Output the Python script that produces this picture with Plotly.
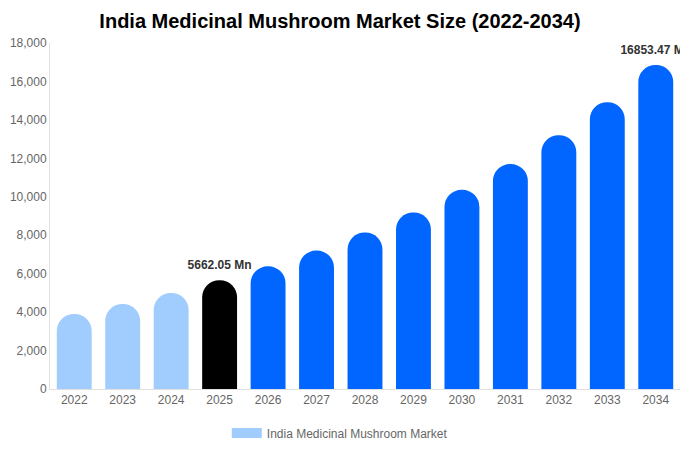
import plotly.graph_objects as go

years = ["2022", "2023", "2024", "2025", "2026", "2027", "2028",
         "2029", "2030", "2031", "2032", "2033", "2034"]
values = [3900, 4420, 4995, 5662.05, 6380, 7200, 8140,
          9180, 10360, 11700, 13200, 14920, 16853.47]
bar_colors = ["#a0cdfd", "#a0cdfd", "#a0cdfd", "#000000"] + ["#0066ff"] * 9
series_name = "India Medicinal Mushroom Market"
legend_color = "#a0cdfd"
label_years = ["2025", "2034"]
label_texts = ["5662.05 Mn", "16853.47 Mn"]

font = "Liberation Sans, Arial, sans-serif"

fig = go.Figure()
fig.add_trace(go.Bar(
    x=years, y=values, name=series_name, legendgroup="m",
    marker=dict(color=bar_colors, cornerradius="50%", line=dict(width=0)),
    width=0.72, showlegend=False, hoverinfo="x+y",
))
# legend entry drawn as a wide swatch, same as the reference
fig.add_trace(go.Scatter(
    x=[None], y=[None], mode="lines", name=series_name, legendgroup="m",
    line=dict(color=legend_color, width=12), showlegend=True, hoverinfo="skip",
))
# value labels above the highlighted bars
fig.add_trace(go.Scatter(
    x=label_years, y=[values[years.index(y)] for y in label_years],
    mode="markers+text", text=["<b>" + t + "</b>" for t in label_texts],
    textposition="top center", cliponaxis=False,
    marker=dict(size=12, color="rgba(0,0,0,0)"),
    textfont=dict(family=font, size=12, color="#333333"),
    showlegend=False, hoverinfo="skip",
))

fig.update_layout(
    width=680, height=450,
    margin=dict(l=50, r=0, t=43, b=61),
    paper_bgcolor="white", plot_bgcolor="white",
    font=dict(family=font, size=12, color="#666666"),
    title=dict(text="<b>India Medicinal Mushroom Market Size (2022-2034)</b>",
               x=0.5, xanchor="center", y=0.953, yanchor="middle",
               font=dict(family=font, size=20, color="#000000")),
    showlegend=True,
    legend=dict(orientation="h", x=0.46, xanchor="center", y=-0.085, yanchor="top",
                font=dict(family=font, size=12, color="#666666")),
)
fig.update_yaxes(range=[0, 18000], dtick=2000, tickformat=",", showgrid=False,
                 zeroline=False, showline=True, linecolor="#e0e0e0", linewidth=1,
                 ticks="", tickfont=dict(size=12, color="#666666"))
fig.update_xaxes(type="category", categoryorder="array", categoryarray=years,
                 range=[-0.5, len(years) - 0.5],
                 showgrid=False, showline=True, linecolor="#e0e0e0",
                 linewidth=1, ticks="", tickfont=dict(size=12, color="#666666"))

fig.write_html(
    "out.html",
    config={"displayModeBar": False, "responsive": False},
    post_script="document.body.style.margin='0';document.body.style.overflow='hidden';"
                "document.documentElement.style.overflow='hidden';",
)
